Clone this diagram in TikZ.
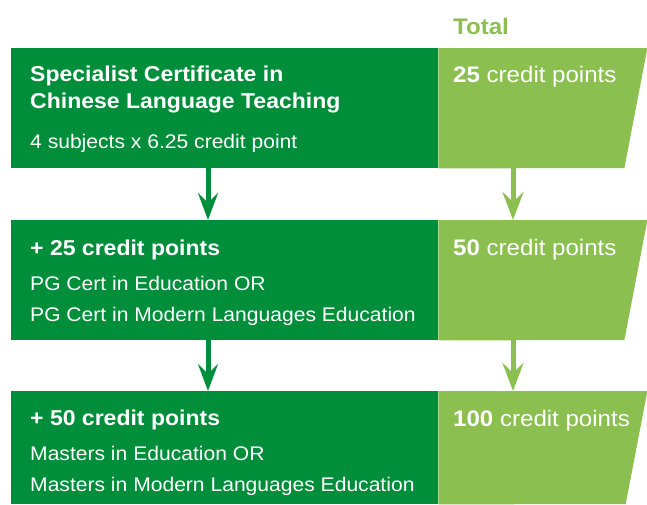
\documentclass[tikz,border=0pt]{standalone}
\usepackage{fontspec}
\setmainfont{Liberation Sans}[FakeStretch=1.07]
\usetikzlibrary{arrows.meta}
\definecolor{darkgreen}{RGB}{0,142,58}
\definecolor{lightgreen}{RGB}{139,192,80}
\tikzset{
  darkbox/.style={fill=darkgreen, draw=none, inner sep=0pt, anchor=north west, minimum width=427pt},
  headtext/.style={anchor=base west, inner sep=0pt, text=white, font=\fontsize{21.5}{26}\selectfont\bfseries},
  bodytext/.style={anchor=base west, inner sep=0pt, text=white, font=\fontsize{19.7}{24}\selectfont},
  pointtext/.style={anchor=base west, inner sep=0pt, text=white, font=\fontsize{22.5}{27}\selectfont},
  darkarrow/.style={draw=darkgreen, line width=5pt, -{Stealth[length=27pt,width=20pt,inset=10pt]}},
  lightarrow/.style={draw=lightgreen, line width=5pt, -{Stealth[length=28pt,width=21pt,inset=10pt]}}
}

\begin{document}
\begin{tikzpicture}[x=1pt,y=-1pt]
			%%%%% START %%%%%
			\useasboundingbox (0,0) rectangle (647,504);
			
			\node[pointtext, text=lightgreen, font=\fontsize{22.5}{27}\selectfont\bfseries] (total) at (453,34) {Total};
			
			% dark column
			\node[darkbox, minimum height=120pt] (cert) at (11,48) {};
			\node[darkbox, minimum height=120pt] (pg) at (11,220) {};
			\node[darkbox, minimum height=113pt] (ma) at (11,391) {};
			
			% light column
			\fill[lightgreen] (cert.north east) -- ++(209,0) -- ++(-23,120) -- (cert.south east) -- cycle;
			\fill[lightgreen] (pg.north east) -- ++(209,0) -- ++(-23,120) -- (pg.south east) -- cycle;
			\fill[lightgreen] (ma.north east) -- ++(209,0) -- ++(-21.7,113) -- (ma.south east) -- cycle;
			
			\node[headtext] (cert1) at (30,81) {Specialist Certificate in};
			\node[headtext] (cert2) at (30,108) {Chinese Language Teaching};
			\node[bodytext] (cert3) at (30,148) {4 subjects x 6.25 credit point};
			
			\node[headtext] (pg1) at (30,255) {+ 25 credit points};
			\node[bodytext] (pg2) at (30,290) {PG Cert in Education OR};
			\node[bodytext] (pg3) at (30,321) {PG Cert in Modern Languages Education};
			
			\node[headtext] (ma1) at (30,425) {+ 50 credit points};
			\node[bodytext] (ma2) at (30,460) {Masters in Education OR};
			\node[bodytext] (ma3) at (30,491) {Masters in Modern Languages Education};
			
			\node[pointtext] (pts1) at (453,82) {\textbf{25} credit points};
			\node[pointtext] (pts2) at (453,255) {\textbf{50} credit points};
			\node[pointtext] (pts3) at (453,426) {\textbf{100} credit points};
			
			% arrows
			\coordinate (dcol) at (208,0);
			\coordinate (lcol) at (513,0);
			\draw[darkarrow] (cert.south -| dcol) -- (pg.north -| dcol);
			\draw[darkarrow] (pg.south -| dcol) -- (ma.north -| dcol);
			\draw[lightarrow] (cert.south -| lcol) -- (pg.north -| lcol);
			\draw[lightarrow] (pg.south -| lcol) -- (ma.north -| lcol);
			
			%%%%% END %%%%%
\end{tikzpicture}
\end{document}
